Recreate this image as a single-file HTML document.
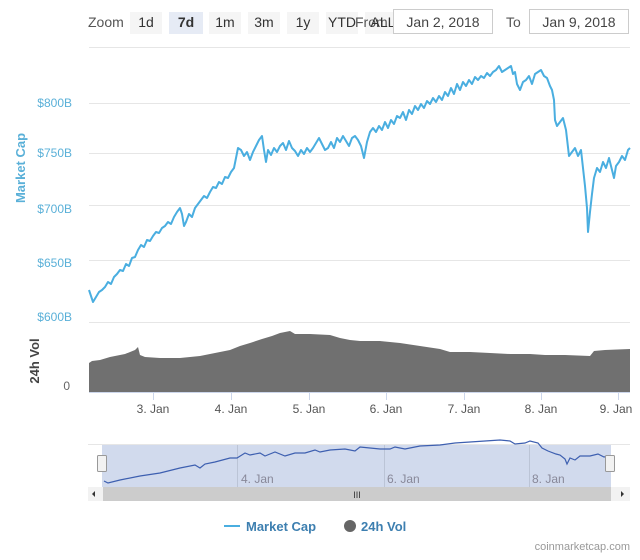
<!DOCTYPE html>
<html><head><meta charset="utf-8"><style>
body{margin:0;background:#fff;width:640px;height:555px;overflow:hidden;font-family:"Liberation Sans",sans-serif}
</style></head><body>
<svg width="640" height="555" xmlns="http://www.w3.org/2000/svg" font-family="Liberation Sans, sans-serif">
<!-- zoom buttons -->
<text x="88" y="27" font-size="14" fill="#555">Zoom</text>
<g font-size="14" fill="#333">
<rect x="130" y="12" width="32" height="22" fill="#f5f5f5"/><text x="146" y="27" text-anchor="middle">1d</text>
<rect x="169" y="12" width="34" height="22" fill="#e6ebf5"/><text x="186" y="27" text-anchor="middle" font-weight="bold">7d</text>
<rect x="209" y="12" width="32" height="22" fill="#f5f5f5"/><text x="225" y="27" text-anchor="middle">1m</text>
<rect x="248" y="12" width="32" height="22" fill="#f5f5f5"/><text x="264" y="27" text-anchor="middle">3m</text>
<rect x="287" y="12" width="32" height="22" fill="#f5f5f5"/><text x="303" y="27" text-anchor="middle">1y</text>
<rect x="326" y="12" width="32" height="22" fill="#f5f5f5"/><text x="342" y="27" text-anchor="middle">YTD</text>
<rect x="365" y="12" width="32" height="22" fill="#f5f5f5"/><text x="355" y="27" fill="#555">From</text><text x="383" y="27" text-anchor="middle">ALL</text>
</g>
<rect x="393.5" y="9.5" width="99" height="24" fill="#fff" stroke="#ccc"/>
<text x="443" y="27" font-size="14" fill="#444" text-anchor="middle">Jan 2, 2018</text>
<text x="506" y="27" font-size="14" fill="#555">To</text>
<rect x="529.5" y="9.5" width="99" height="24" fill="#fff" stroke="#ccc"/>
<text x="579" y="27" font-size="14" fill="#444" text-anchor="middle">Jan 9, 2018</text>
<!-- grid -->
<g stroke="#e6e6e6" stroke-width="1">
<line x1="89" x2="630" y1="47.5" y2="47.5"/>
<line x1="89" x2="630" y1="103.5" y2="103.5"/>
<line x1="89" x2="630" y1="153.5" y2="153.5"/>
<line x1="89" x2="630" y1="205.5" y2="205.5"/>
<line x1="89" x2="630" y1="260.5" y2="260.5"/>
<line x1="89" x2="630" y1="322.5" y2="322.5"/>
</g>
<g font-size="12" fill="#5ab0d8" text-anchor="end">
<text x="72" y="107">$800B</text><text x="72" y="157">$750B</text><text x="72" y="213">$700B</text><text x="72" y="267">$650B</text><text x="72" y="321">$600B</text>
</g>
<text transform="translate(25,168) rotate(-90)" font-size="13" font-weight="bold" fill="#5ab0d8" text-anchor="middle">Market Cap</text>
<text transform="translate(39,361) rotate(-90)" font-size="13" font-weight="bold" fill="#444" text-anchor="middle">24h Vol</text>
<text x="70" y="390" font-size="12" fill="#666" text-anchor="end">0</text>
<!-- volume -->
<polygon fill="#707070" points="89,392 89,363 92,361 100,360 110,357 125,354 135,350 138,347 140,355 145,357 160,358 180,358 200,356 220,352 230,350 240,346 250,343 262,339 272,336 280,333 290,331 295,334 310,334 330,335 340,338 350,340 360,341 380,341 400,343 420,346 440,349 450,352 470,352 490,353 510,354 530,354 545,355 565,355 590,356 594,351 605,350 630,349 630,392"/>
<line x1="89" x2="630" y1="392.5" y2="392.5" stroke="#ccd6eb"/>
<g stroke="#ccd6eb"><line x1="153.5" x2="153.5" y1="392" y2="400"/><line x1="231.5" x2="231.5" y1="392" y2="400"/><line x1="309.5" x2="309.5" y1="392" y2="400"/><line x1="386.5" x2="386.5" y1="392" y2="400"/><line x1="464.5" x2="464.5" y1="392" y2="400"/><line x1="541.5" x2="541.5" y1="392" y2="400"/><line x1="618.5" x2="618.5" y1="392" y2="400"/></g>
<g font-size="12" fill="#555" text-anchor="middle">
<text x="153" y="413">3. Jan</text><text x="231" y="413">4. Jan</text><text x="309" y="413">5. Jan</text><text x="386" y="413">6. Jan</text><text x="464" y="413">7. Jan</text><text x="541" y="413">8. Jan</text><text x="616" y="413">9. Jan</text>
</g>
<!-- market cap line -->
<polyline fill="none" stroke="#4aaee0" stroke-width="2" stroke-linejoin="round" points="89,290 91,296 93,302 96,297 99,292 102,290 105,287 108,282 111,284 114,277 117,274 120,270 123,271 126,264 129,266 132,258 135,257 138,250 141,245 144,247 147,240 150,241 153,236 156,232 159,233 162,228 165,226 168,222 171,224 174,217 177,212 180,208 182,214 184,226 186,222 189,214 192,217 195,208 198,204 201,200 204,196 207,198 210,192 213,187 216,188 219,182 222,184 225,177 228,178 231,172 234,168 236,158 238,148 241,150 244,156 247,152 250,160 253,152 256,146 259,140 262,136 264,150 266,162 268,150 271,155 274,148 277,152 280,146 283,143 286,150 289,141 292,148 295,151 298,156 301,150 304,154 307,148 310,152 313,148 316,143 319,138 322,144 325,150 328,148 331,142 334,148 337,138 340,142 343,136 346,141 349,146 352,138 355,136 358,140 361,146 364,158 367,142 370,132 373,128 376,132 379,126 382,130 385,122 388,128 391,120 394,124 397,116 400,118 403,112 406,120 409,110 412,114 415,106 418,110 421,104 424,108 427,101 430,104 433,98 436,102 439,96 442,100 445,92 448,96 451,88 454,94 457,84 460,90 463,82 466,86 469,80 472,84 475,77 478,80 481,76 484,78 487,73 490,76 493,72 496,70 499,66 502,72 505,70 508,68 511,66 513,74 515,72 517,84 520,90 523,82 526,80 529,76 532,84 535,74 538,72 541,70 544,76 547,78 550,86 552,90 554,100 555,120 557,126 560,122 563,118 566,130 569,156 572,152 575,148 578,156 581,150 583,168 585,186 587,208 588,232 590,212 592,194 594,178 597,168 600,172 603,162 606,168 609,158 612,170 614,178 616,166 619,162 622,156 625,160 628,150 630,148"/>
<!-- navigator -->
<line x1="88" x2="630" y1="444.5" y2="444.5" stroke="#e6e6e6"/>
<rect x="102" y="445" width="509" height="42" fill="#ccd6eb" opacity="0.9"/>
<g stroke="#bbc4d6"><line x1="237.5" x2="237.5" y1="445" y2="487"/><line x1="384.5" x2="384.5" y1="445" y2="487"/><line x1="529.5" x2="529.5" y1="445" y2="487"/></g>
<g font-size="12" fill="#889" ><text x="241" y="483">4. Jan</text><text x="387" y="483">6. Jan</text><text x="532" y="483">8. Jan</text></g>
<polyline fill="none" stroke="#3d5fb0" stroke-width="1.2" points="104,481 108,483 120,480 140,476 160,473 180,468 195,465 200,468 205,464 215,462 230,458 237,458 245,453 250,455 260,453 265,456 275,452 285,456 295,453 305,453 315,450 320,452 330,450 345,449 355,451 360,447 380,449 390,449 395,447 405,449 420,446 440,445 455,443 470,442 485,441 500,440 510,441 515,444 525,443 530,441 538,443 542,448 548,451 556,454 560,455 565,459 567,464 570,458 575,460 580,456 590,456 598,454 604,457 610,456"/>
<rect x="97.5" y="455.5" width="9" height="16" fill="#f2f2f2" stroke="#999" rx="1"/>
<rect x="605.5" y="455.5" width="9" height="16" fill="#f2f2f2" stroke="#999" rx="1"/>
<rect x="88" y="487" width="542" height="14" fill="#f2f2f2"/>
<rect x="103" y="487" width="508" height="14" fill="#ccc"/>
<text x="357" y="498" font-size="9" fill="#333" text-anchor="middle">III</text>
<path d="M95,491 L92,494 L95,497Z" fill="#333"/><path d="M621,491 L624,494 L621,497Z" fill="#333"/>
<!-- legend -->
<line x1="224" x2="240" y1="526" y2="526" stroke="#4aaee0" stroke-width="2"/>
<text x="246" y="531" font-size="13" font-weight="bold" fill="#3d7fb0">Market Cap</text>
<circle cx="350" cy="526" r="6" fill="#666"/>
<text x="361" y="531" font-size="13" font-weight="bold" fill="#3d7fb0">24h Vol</text>
<text x="630" y="550" font-size="11" fill="#999" text-anchor="end">coinmarketcap.com</text>
</svg>
</body></html>
